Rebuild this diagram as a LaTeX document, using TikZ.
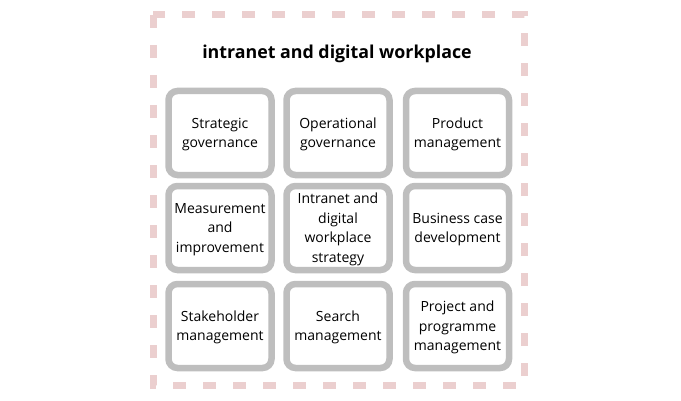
\documentclass[tikz,border=0pt]{standalone}
\usepackage{fontspec}
\setmainfont{Open Sans}
\begin{document}
\begin{tikzpicture}[x=1pt,y=1pt,
  cell/.style={draw=boxgray, line width=6.5pt, rounded corners=9pt, fill=white,
    minimum width=103pt, minimum height=84pt, inner sep=0pt},
  celltext/.style={align=center, font=\fontsize{14}{19.5}\selectfont, text=black, inner sep=0pt},
  frame/.style={draw=framepink, line width=7pt, dash pattern=on 13pt off 17pt},
  title/.style={font=\fontsize{17.8}{20}\selectfont\bfseries}]
\definecolor{boxgray}{HTML}{BEBEBE}
\definecolor{framepink}{HTML}{EBCFCF}
\useasboundingbox (0,0) rectangle (681,400);
\draw[frame] (153,385) rectangle (524,15);
\node[title] (t) at (337,346) {intranet and digital workplace};
\node[cell] (a1) at (220,267) {};
\node[cell] (a2) at (338,267) {};
\node[cell] (a3) at (457.5,267) {};
\node[cell] (b1) at (220,172) {};
\node[cell] (b2) at (338,172) {};
\node[cell] (b3) at (457.5,172) {};
\node[cell] (c1) at (220,74) {};
\node[cell] (c2) at (338,74) {};
\node[cell] (c3) at (457.5,74) {};
\node[celltext] (a1t) at ([yshift=-1.5pt]a1.center) {Strategic\\governance};
\node[celltext] (a2t) at ([yshift=-1.5pt]a2.center) {Operational\\governance};
\node[celltext] (a3t) at ([yshift=-1.5pt]a3.center) {Product\\management};
\node[celltext] (b1t) at ([yshift=-1.5pt]b1.center) {Measurement\\and\\improvement};
\node[celltext] (b2t) at ([yshift=-1.5pt]b2.center) {Intranet and\\digital\\workplace\\strategy};
\node[celltext] (b3t) at ([yshift=-1.5pt]b3.center) {Business case\\development};
\node[celltext] (c1t) at ([yshift=-1.5pt]c1.center) {Stakeholder\\management};
\node[celltext] (c2t) at ([yshift=-1.5pt]c2.center) {Search\\management};
\node[celltext] (c3t) at ([yshift=-1.5pt]c3.center) {Project and\\programme\\management};
\end{tikzpicture}
\end{document}
